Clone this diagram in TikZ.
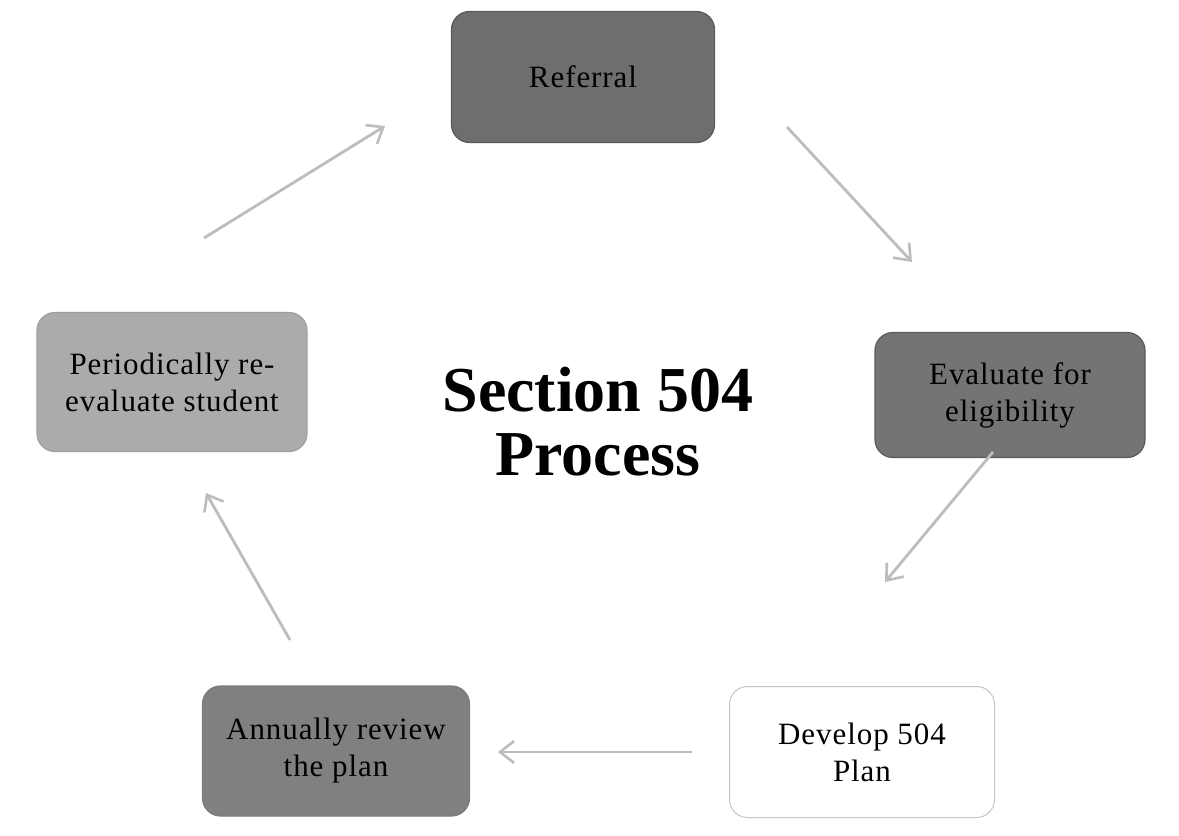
\documentclass[tikz,border=0pt]{standalone}
\usepackage{fontspec}
\setmainfont{Liberation Serif}
\newfontfamily\boxfont[LetterSpace=3]{Liberation Serif}
\usetikzlibrary{arrows.meta}
\tikzset{
  box/.style={rounded corners=18pt, align=center, inner sep=4pt,
    font=\boxfont\fontsize{31}{37}\selectfont, text=black, line width=1.2pt},
  flow/.style={draw=arrowgray, line width=2.8pt,
    -{Straight Barb[length=14pt,width=22pt,line width=2.6pt]}}
}
\definecolor{darkA}{HTML}{6E6E6E}
\definecolor{darkB}{HTML}{747474}
\definecolor{darkC}{HTML}{808080}
\definecolor{lightbox}{HTML}{ABABAB}
\definecolor{edgegray}{HTML}{5A5A5A}
\definecolor{arrowgray}{HTML}{BDBDBD}
\begin{document}
\begin{tikzpicture}[x=1pt,y=-1pt]
\useasboundingbox[fill=white] (0,0) rectangle (1179,836);
\node[box, fill=darkA, draw=edgegray, minimum width=263pt, minimum height=131pt] (ref) at (583,77) {Referral};
\node[box, fill=darkB, draw=edgegray, minimum width=270pt, minimum height=125pt] (eval) at (1010,395) {Evaluate for\\eligibility};
\node[box, fill=white, draw=gray!45, line width=1pt, minimum width=265pt, minimum height=131pt] (dev) at (862,752) {Develop 504\\Plan};
\node[box, fill=darkC, draw=edgegray!80, minimum width=267pt, minimum height=130pt] (ann) at (336,751) {Annually review\\the plan};
\node[box, fill=lightbox, draw=gray!75, minimum width=270pt, minimum height=139pt] (per) at (172,382) {Periodically re-\\evaluate student};
\node[font=\bfseries\fontsize{64}{64}\selectfont, align=center] (title) at (598,422) {Section 504\\Process};
\coordinate (r1) at (787,127); \coordinate (e1) at (912,262);
\coordinate (e2) at (993,452); \coordinate (d1) at (885,582);
\coordinate (d2) at (692,752); \coordinate (a1) at (498,752);
\coordinate (a2) at (290,640); \coordinate (p1) at (206,493);
\coordinate (p2) at (204,238); \coordinate (r2) at (385,126);
\draw[flow] (r1) -- (e1);
\draw[flow] (e2) -- (d1);
\draw[flow] (d2) -- (a1);
\draw[flow] (a2) -- (p1);
\draw[flow] (p2) -- (r2);
\end{tikzpicture}
\end{document}
